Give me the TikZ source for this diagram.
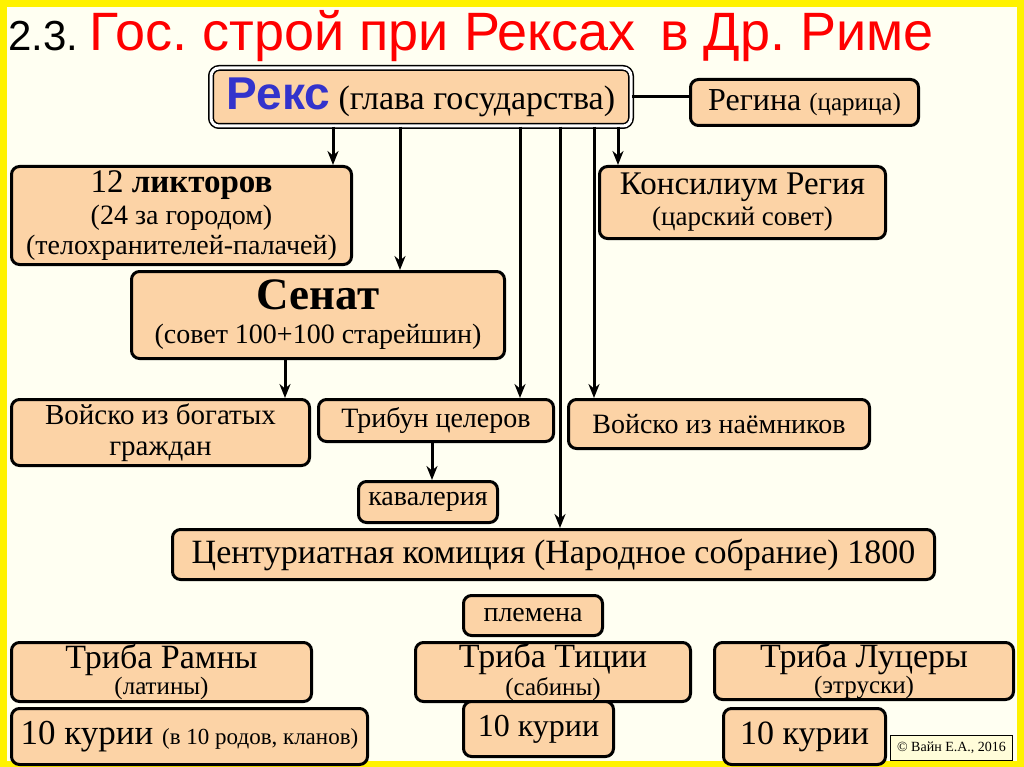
\documentclass[tikz,border=0pt]{standalone}
\usepackage{fontspec}
\setmainfont{Liberation Serif}
\setsansfont{Liberation Sans}
\usetikzlibrary{arrows.meta}
\frenchspacing
\definecolor{peach}{HTML}{FCD3A6}
\definecolor{bg}{HTML}{FFFFF2}
\definecolor{rexblue}{HTML}{3333CC}
\tikzset{
 box/.style={draw=black,line width=3pt,fill=peach,rounded corners=8pt,inner sep=0pt,align=center,anchor=north west},
 arr/.style={line width=3pt,-{Stealth[length=14pt,width=11pt]}},
}
\newcommand{\fs}[1]{\fontsize{#1}{#1}\selectfont}
\newcommand{\bx}[7]{\node[box,minimum width=#4-#2,minimum height=#5-#3,font=\fs{#6}] (#1) at (#2,#3) {#7};}
\begin{document}
\begin{tikzpicture}[x=1pt,y=-1pt]
\fill[yellow] (0,0) rectangle (1024,767);
\fill[bg] (7,7) rectangle (1017,761);
\useasboundingbox (0,0) rectangle (1024,767);
\node[anchor=west,font=\sffamily,inner sep=0pt] (title) at (8,36) {\fs{42}2.3. \textcolor{red}{\fs{54}Гос. строй при Рексах\, в Др. Риме}};
% Rex
\node[box,minimum width=420,minimum height=58,double=white,double distance=3pt,line width=1.5pt,anchor=center,font=\fs{34}] (rex) at (421,97)
 {\textcolor{rexblue}{\sffamily\bfseries\fs{46}Рекс} (глава государства)};
\bx{reg}{689}{78}{917}{124}{32}{Регина \fs{25}(царица)}
\bx{lic}{10}{165}{350}{263}{28}{\fs{33}12 \textbf{ликторов}\\[4pt](24 за городом)\\[2pt](телохранителей-палачей)}
\bx{kon}{598}{165}{884}{237}{27}{\fs{33}Консилиум Регия\\[4pt](царский совет)}
\bx{sen}{130}{270}{503}{357}{28}{\fs{45}\bfseries Сенат\\[6pt](совет 100+100 старейшин)}
\bx{vb}{10}{398}{308}{464}{29}{Войско из богатых\\[2pt]граждан}
\bx{tri}{317}{398}{552}{440}{28}{Трибун целеров}
\bx{vn}{567}{398}{868}{447}{28}{Войско из наёмников}
\bx{kav}{357}{480}{496}{521}{28}{кавалерия}
\bx{cen}{171}{528}{933}{578}{34}{Центуриатная комиция (Народное собрание) 1800}
\bx{ple}{462}{594}{601}{634}{28}{племена}
\bx{tr1}{10}{641}{310}{700}{25}{\fs{34}Триба Рамны\\[1pt](латины)}
\bx{tr2}{414}{641}{689}{700}{25}{\fs{34}Триба Тиции\\[1pt](сабины)}
\bx{tr3}{713}{641}{1012}{698}{25}{\fs{34}Триба Луцеры\\[1pt](этруски)}
\bx{k1}{10}{707}{366}{763}{35}{10 курии \fs{23}(в 10 родов, кланов)}
\bx{k2}{462}{700}{612}{755}{32}{10 курии}
\bx{k3}{722}{707}{884}{763}{34}{10 курии}
\node[draw=black,line width=1pt,fill=yellow!15,inner sep=0pt,minimum width=122,minimum height=25,anchor=north west,font=\fs{14}] (copy) at (890,735) {© Вайн Е.А., 2016};
% connectors
\foreach \n/\x in {a/333,b/400,c/520,d/560,e/594,f/618,g/285,h/432}{\coordinate (x\n) at (\x,0);}
\draw[line width=3pt] (rex.east) -- (reg.west |- rex.east);
\draw[arr] (rex.south -| xa) -- (lic.north -| xa);
\draw[arr] (rex.south -| xb) -- (sen.north -| xb);
\draw[arr] (rex.south -| xc) -- (tri.north -| xc);
\draw[arr] (rex.south -| xd) -- (cen.north -| xd);
\draw[arr] (rex.south -| xe) -- (vn.north -| xe);
\draw[arr] (rex.south -| xf) -- (kon.north -| xf);
\draw[arr] (sen.south -| xg) -- (vb.north -| xg);
\draw[arr] (tri.south -| xh) -- (kav.north -| xh);
\end{tikzpicture}
\end{document}
